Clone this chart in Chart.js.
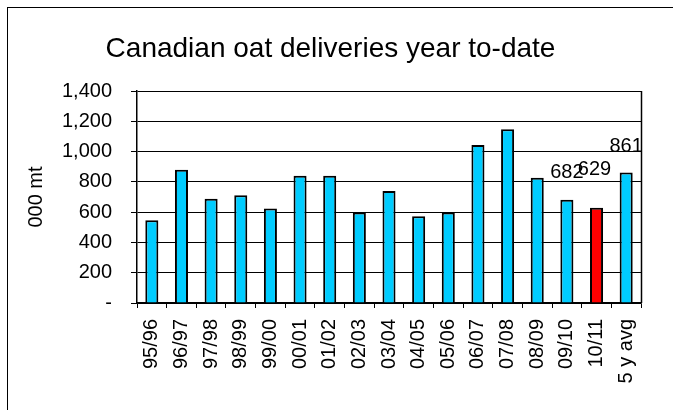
<!DOCTYPE html>
<html>
<head>
<meta charset="utf-8">
<script src="https://cdn.jsdelivr.net/npm/chart.js@4/dist/chart.umd.min.js"></script>
<style>
  html, body { margin: 0; padding: 0; background: #fff; }
  canvas { display: block; }
</style>
</head>
<body>
<canvas id="c" width="673" height="410"></canvas>
<script>
// ---- data ----
const categories = ['95/96','96/97','97/98','98/99','99/00','00/01','01/02','02/03','03/04','04/05','05/06','06/07','07/08','08/09','09/10','10/11','5 y avg'];
const deliveries = [547, 880, 688, 712, 624, 840, 840, 598, 739, 573, 598, 1043, 1147, 827, 682, 629, 861];
const highlightCategory = '10/11';
const labelledCategories = ['09/10', '10/11', '5 y avg'];
const yTicks = [0, 200, 400, 600, 800, 1000, 1200, 1400];

const FONT = "'Liberation Sans', Arial, Helvetica, sans-serif";
Chart.defaults.font.family = FONT;
Chart.defaults.color = '#000';

const barColors = categories.map(c => c === highlightCategory ? '#FF0000' : '#00CCFF');

function fmt(v) {
  if (v === 0) return '-';
  return String(v).replace(/\B(?=(\d{3})+(?!\d))/g, ',');
}

const frame = {
  id: 'frame',
  beforeDraw(chart) {
    const ctx = chart.ctx;
    ctx.save();
    ctx.fillStyle = '#fff';
    ctx.fillRect(0, 0, chart.width, chart.height);
    ctx.strokeStyle = '#000';
    ctx.lineWidth = 1;
    ctx.strokeRect(7.5, 7.5, chart.width + 50, chart.height + 50);
    ctx.restore();
  },
  afterDraw(chart) {
    const a = chart.chartArea, ctx = chart.ctx;
    ctx.save();
    ctx.strokeStyle = '#000';
    ctx.lineWidth = 1.5;
    ctx.beginPath();
    ctx.moveTo(Math.round(a.right) + 0.5, a.top);
    ctx.lineTo(Math.round(a.right) + 0.5, a.bottom);
    ctx.stroke();
    ctx.restore();
  }
};

const valueLabels = {
  id: 'valueLabels',
  afterDatasetsDraw(chart, args, opts) {
    const ctx = chart.ctx;
    const meta = chart.getDatasetMeta(0);
    ctx.save();
    ctx.font = opts.size + 'px ' + FONT;
    ctx.fillStyle = '#000';
    ctx.textAlign = 'center';
    ctx.textBaseline = 'middle';
    labelledCategories.forEach((cat, k) => {
      const i = categories.indexOf(cat);
      const el = meta.data[i];
      ctx.fillText(String(deliveries[i]), el.x + opts.dx[k], el.y - opts.offsets[k]);
    });
    ctx.restore();
  }
};

new Chart(document.getElementById('c'), {
  type: 'bar',
  data: {
    labels: categories,
    datasets: [{
      data: deliveries,
      backgroundColor: barColors,
      borderColor: '#000',
      borderWidth: 2,
      barPercentage: 0.44,
      categoryPercentage: 1
    }]
  },
  options: {
    responsive: false,
    animation: false,
    devicePixelRatio: 1,
    layout: { padding: { left: 20, right: 32, top: 0, bottom: 0 } },
    plugins: {
      legend: { display: false },
      tooltip: { enabled: false },
      title: {
        display: true,
        text: 'Canadian oat deliveries year to-date',
        color: '#000',
        font: { size: 28, weight: 'normal', family: FONT },
        padding: { top: 32, bottom: 25.4 }
      },
      valueLabels: { size: 20, offsets: [27, 38, 26], dx: [0, -2, 0] }
    },
    scales: {
      x: {
        grid: { drawOnChartArea: false, offset: true, tickLength: 5, color: '#000', lineWidth: 1 },
        border: { color: '#000', width: 1.5 },
        ticks: { minRotation: 90, maxRotation: 90, autoSkip: false, padding: 11, color: '#000', font: { size: 20 } },
        afterFit(s) { s.height = 107; }
      },
      y: {
        min: 0, max: 1400,
        afterBuildTicks(s) { s.ticks = yTicks.map(v => ({ value: v })); },
        ticks: { padding: 19, color: '#000', font: { size: 20 }, callback: v => fmt(v) },
        grid: { color: '#000', lineWidth: 1, tickLength: 6 },
        border: { color: '#000', width: 1.5 },
        title: { display: true, text: '000 mt', color: '#000', font: { size: 20 } },
        afterFit(s) { s.width = 117; }
      }
    }
  },
  plugins: [frame, valueLabels]
});
</script>
</body>
</html>
